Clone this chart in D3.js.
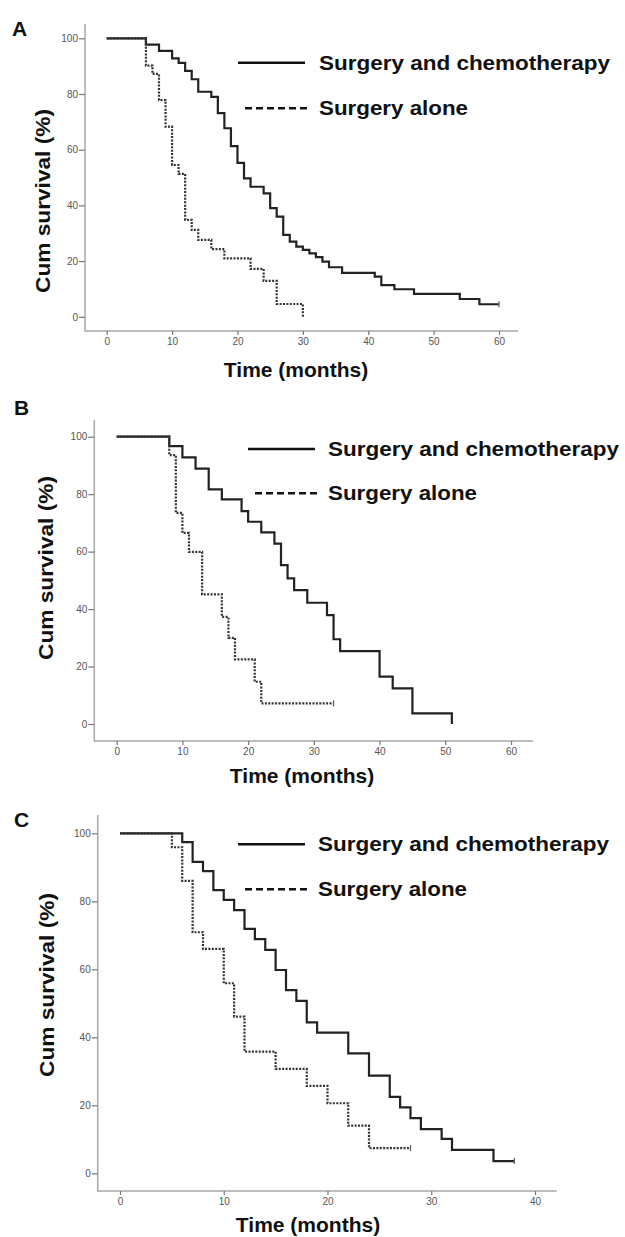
<!DOCTYPE html>
<html>
<head>
<meta charset="utf-8">
<script src="https://cdn.jsdelivr.net/npm/d3@7"></script>
<style>
  body { margin: 0; background: #fff; }
  svg text { font-family: "Liberation Sans", Arial, sans-serif; }
</style>
</head>
<body>
<svg id="chart" width="625" height="1237"></svg>
<script>
// Kaplan-Meier curves: event times (months) and survival (%)
var aChemoTime = [0,6,8,10,11,12,13,14,16,17,18,19,20,21,22,24,25,26,27,28,29,30,31,32,33,34,36,41,42,44,47,54,57,60];
var aChemoSurv = [100,97.7,95.5,92.8,91.2,88.3,85.3,80.8,79,73.1,67.7,61.3,55.3,49.7,46.7,44.3,39,36,29.4,27,25.2,24,22.8,21.4,19.8,17.8,15.8,14.4,11.4,9.9,8.2,6.4,4.5,4.5];
var aAloneTime = [0,6,7,8,9,10,11,12,13,14,16,18,22,24,26,30];
var aAloneSurv = [100,90.2,87.2,77.8,68.3,54.5,51.3,34.8,31.2,27.6,24.3,21,17.2,12.9,4.6,0];

var bChemoTime = [0,8,10,12,14,16,19,20,22,24,25,26,27,29,32,33,34,40,42,45,51];
var bChemoSurv = [100,96.7,92.8,88.9,81.7,78.2,74.1,70.4,66.7,62.8,55.3,50.7,46.6,42.2,37.9,29.5,25.4,16.5,12.4,3.7,0];
var bAloneTime = [0,8,9,10,11,13,16,17,18,21,22,33];
var bAloneSurv = [100,93.6,73.5,66.5,59.9,45.1,37.3,30,22.5,14.7,7.2,7.2];

var cChemoTime = [0,6,7,8,9,10,11,12,13,14,15,16,17,18,19,22,24,26,27,28,29,31,32,36,38];
var cChemoSurv = [100,97.4,91.6,88.9,83.3,80.4,77.4,71.9,68.9,65.7,59.8,53.9,50.7,44.4,41.4,35.3,28.7,22.5,19.4,16.2,13,10.1,6.9,3.6,3.6];
var cAloneTime = [0,5,6,7,8,10,11,12,15,18,20,22,24,28];
var cAloneSurv = [100,95.9,86,70.9,66,55.9,46.1,35.8,30.7,25.7,20.6,14,7.4,7.4];

var yTicks = [0,20,40,60,80,100];
var xTicksAB = [0,10,20,30,40,50,60];
var xTicksC = [0,10,20,30,40];
var panelLetters = ["A","B","C"];
var legendLabels = ["Surgery and chemotherapy","Surgery alone"];
var yTitle = "Cum survival (%)";
var xTitle = "Time (months)";

var svg = d3.select("#chart");

// layout of each panel (pixel frame only)
var panels = [
  { letter: panelLetters[0], chemoT: aChemoTime, chemoS: aChemoSurv, aloneT: aAloneTime, aloneS: aAloneSurv,
    xMax: 60, xTicks: xTicksAB, x0: 106.7, x1: 499, y0: 316.8, y1: 38.3,
    axX: 85, axTop: 24, axY: 331, axRight: 518,
    letterX: 12, letterY: 36, yTitleX: 50, yTitleY: 201, xTitleX: 296, xTitleY: 377,
    legX1: 238, legX2: 305, legY1: 62.7, legDX1: 245, legDX2: 309, legY2: 108.3, legTextX: 319 },
  { letter: panelLetters[1], chemoT: bChemoTime, chemoS: bChemoSurv, aloneT: bAloneTime, aloneS: bAloneSurv,
    xMax: 60, xTicks: xTicksAB, x0: 116.7, x1: 511, y0: 724, y1: 436.7,
    axX: 94.3, axTop: 420, axY: 741, axRight: 533,
    letterX: 14, letterY: 415, yTitleX: 53, yTitleY: 568, xTitleX: 302, xTitleY: 783,
    legX1: 248, legX2: 315, legY1: 449, legDX1: 255, legDX2: 320, legY2: 493.3, legTextX: 328 },
  { letter: panelLetters[2], chemoT: cChemoTime, chemoS: cChemoSurv, aloneT: cAloneTime, aloneS: cAloneSurv,
    xMax: 40, xTicks: xTicksC, x0: 120, x1: 535, y0: 1173.3, y1: 833.3,
    axX: 97.7, axTop: 815, axY: 1191, axRight: 556.7,
    letterX: 14, letterY: 827, yTitleX: 54, yTitleY: 985, xTitleX: 308, xTitleY: 1232,
    legX1: 238, legX2: 305, legY1: 844.3, legDX1: 245, legDX2: 310, legY2: 889.3, legTextX: 318 }
];

panels.forEach(function(p) {
  var xScale = d3.scaleLinear().domain([0, p.xMax]).range([p.x0, p.x1]);
  var yScale = d3.scaleLinear().domain([0, 100]).range([p.y0, p.y1]);
  var g = svg.append("g");

  // L-shaped axis frame
  g.append("path")
    .attr("d", "M" + p.axX + "," + p.axTop + "V" + p.axY + "H" + p.axRight)
    .attr("fill", "none")
    .attr("stroke", "#a8a8a8")
    .attr("stroke-width", 1.5);

  var yAxis = d3.axisLeft(yScale).tickValues(yTicks).tickSize(6).tickPadding(1);
  var yG = g.append("g").attr("transform", "translate(" + p.axX + ",0)").call(yAxis);
  var xAxis = d3.axisBottom(xScale).tickValues(p.xTicks).tickSize(4).tickPadding(3);
  var xG = g.append("g").attr("transform", "translate(0," + p.axY + ")").call(xAxis);

  [yG, xG].forEach(function(a) {
    a.select(".domain").remove();
    a.selectAll(".tick line").attr("stroke", "#777").attr("stroke-width", 1.2);
    a.selectAll(".tick text").attr("fill", "#555").style("font-size", "10px");
  });

  var line = d3.line()
    .x(function(d) { return xScale(d[0]); })
    .y(function(d) { return yScale(d[1]); })
    .curve(d3.curveStepAfter);

  var chemo = d3.zip(p.chemoT, p.chemoS);
  var alone = d3.zip(p.aloneT, p.aloneS);

  g.append("path").datum(chemo)
    .attr("d", line)
    .attr("fill", "none")
    .attr("stroke", "#222")
    .attr("stroke-width", 2.2);

  g.append("path").datum(alone)
    .attr("d", line)
    .attr("fill", "none")
    .attr("stroke", "#333")
    .attr("stroke-width", 2.2)
    .attr("stroke-dasharray", "2,1.4");

  // censor ticks at the end of curves that stay above zero
  [chemo, alone].forEach(function(c) {
    var last = c[c.length - 1];
    if (last[1] > 0) {
      g.append("line")
        .attr("x1", xScale(last[0])).attr("x2", xScale(last[0]))
        .attr("y1", yScale(last[1]) - 3).attr("y2", yScale(last[1]) + 3)
        .attr("stroke", "#555").attr("stroke-width", 1.2);
    }
  });

  // legend
  g.append("line")
    .attr("x1", p.legX1).attr("x2", p.legX2)
    .attr("y1", p.legY1).attr("y2", p.legY1)
    .attr("stroke", "#111").attr("stroke-width", 2.6);
  g.append("line")
    .attr("x1", p.legDX1).attr("x2", p.legDX2)
    .attr("y1", p.legY2).attr("y2", p.legY2)
    .attr("stroke", "#111").attr("stroke-width", 2.6)
    .attr("stroke-dasharray", "7,4");

  g.append("text")
    .attr("x", p.legTextX).attr("y", p.legY1 + 7)
    .attr("textLength", 291).attr("lengthAdjust", "spacingAndGlyphs")
    .style("font-size", "20px").style("font-weight", "bold").attr("fill", "#111")
    .text(legendLabels[0]);
  g.append("text")
    .attr("x", p.legTextX).attr("y", p.legY2 + 7)
    .attr("textLength", 149).attr("lengthAdjust", "spacingAndGlyphs")
    .style("font-size", "20px").style("font-weight", "bold").attr("fill", "#111")
    .text(legendLabels[1]);

  // panel letter
  g.append("text")
    .attr("x", p.letterX).attr("y", p.letterY)
    .style("font-size", "21px").style("font-weight", "bold").attr("fill", "#111")
    .text(p.letter);

  // axis titles
  g.append("text")
    .attr("transform", "translate(" + p.yTitleX + "," + p.yTitleY + ") rotate(-90)")
    .attr("text-anchor", "middle")
    .attr("textLength", 184).attr("lengthAdjust", "spacingAndGlyphs")
    .style("font-size", "21px").style("font-weight", "bold").attr("fill", "#111")
    .text(yTitle);

  g.append("text")
    .attr("x", p.xTitleX).attr("y", p.xTitleY)
    .attr("text-anchor", "middle")
    .style("font-size", "21px").style("font-weight", "bold").attr("fill", "#111")
    .text(xTitle);
});
</script>
</body>
</html>
